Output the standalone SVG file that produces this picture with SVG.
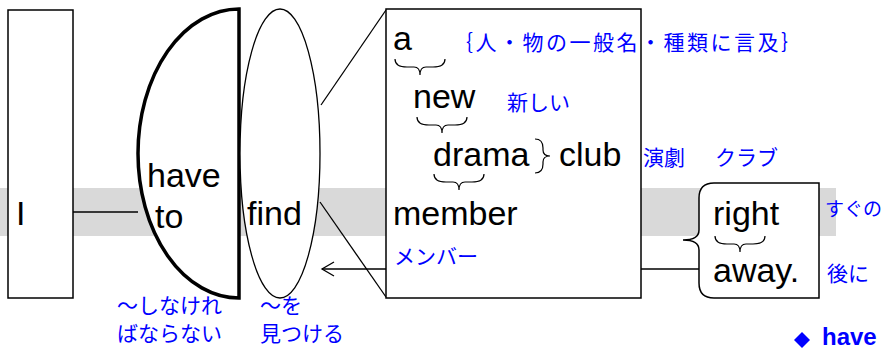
<svg xmlns="http://www.w3.org/2000/svg" width="885" height="351" viewBox="0 0 885 351">
<style>
.en{font-family:"Liberation Sans",Arial,sans-serif;font-size:34px;fill:#000}
.jp{font-family:"Noto Sans CJK JP",sans-serif;font-size:21px;fill:#0000ff}
.ln{stroke:#000;stroke-width:1.3;fill:none}
.box{stroke:#000;stroke-width:1.5;fill:#fff}
.br{stroke:#000;stroke-width:1.2;fill:none}
</style>
<defs>
<path id="ub" d="M0,0 Q0,8 12,8 L19,8 Q25,8 25,16 Q25,8 31,8 L38,8 Q50,8 50,0"/>
<marker id="arr" markerWidth="16" markerHeight="16" refX="13" refY="8" orient="auto" markerUnits="userSpaceOnUse">
<path d="M1,1 L13,8 L1,15" fill="none" stroke="#000" stroke-width="1.3"/>
</marker>
</defs>
<rect x="0" y="188" width="836" height="48" fill="#d9d9d9"/>
<g id="connectors">
<line class="ln" x1="73" y1="212" x2="138" y2="212"/>
<line class="ln" x1="321" y1="105" x2="386" y2="10"/>
<line class="ln" x1="320" y1="202" x2="386" y2="297"/>
<line class="ln" x1="700" y1="269" x2="322" y2="269" marker-end="url(#arr)"/>
</g>
<g id="node-I">
<rect class="box" x="8" y="10" width="65" height="288"/>
<text class="en" x="16" y="225">I</text>
</g>
<g id="node-have-to">
<path d="M239,9 A101,144.5 0 0 0 239,298 Z" fill="#fff" stroke="#000" stroke-width="3.5"/>
<text class="en" x="147" y="187">have</text>
<text class="en" x="155" y="228">to</text>
<text class="jp" x="117" y="313">～しなけれ</text>
<text class="jp" x="117" y="341">ばならない</text>
</g>
<g id="node-find">
<ellipse cx="280" cy="153.5" rx="40" ry="144.5" fill="#fff" stroke="#000" stroke-width="1.3"/>
<text class="en" x="247" y="225">find</text>
<text class="jp" x="260" y="313">～を</text>
<text class="jp" x="260" y="341">見つける</text>
</g>
<g id="node-object">
<rect class="box" x="386" y="9" width="255" height="289"/>
<text class="en" x="393" y="50">a</text>
<use href="#ub" x="395" y="59" class="br"/>
<text class="en" x="413" y="108">new</text>
<use href="#ub" x="417" y="117" class="br"/>
<text class="en" x="433" y="166">drama</text>
<use href="#ub" x="434" y="174" class="br"/>
<path class="br" d="M535,139 Q543,139 543,148 L543,150 Q543,156 550,156 Q543,156 543,162 L543,164 Q543,173 535,173"/>
<text class="en" x="559" y="166">club</text>
<text class="en" x="393" y="225">member</text>
<text class="jp" x="394" y="264">メンバー</text>
<text class="jp" x="452" y="50" textLength="350" lengthAdjust="spacing">｛人・物の一般名・種類に言及｝</text>
<text class="jp" x="507" y="110">新しい</text>
<text class="jp" x="643" y="165">演劇</text>
<text class="jp" x="715" y="165">クラブ</text>
</g>
<g id="node-right-away">
<path class="box" d="M714,183 L819,183 L819,298 L714,298 Q699,298 699,283 L699,250 Q699,240 683,240 Q699,240 699,230 L699,198 Q699,183 714,183 Z"/>
<text class="en" x="713" y="225">right</text>
<use href="#ub" x="715" y="236" class="br"/>
<text class="en" x="713" y="282">away.</text>
<text class="jp" x="825" y="216" style="font-size:19px">すぐの</text>
<text class="jp" x="827" y="281">後に</text>
</g>
<g id="note">
<path d="M802,332 L810,340 L802,348 L794,340 Z" fill="#0000ff"/>
<text x="822" y="345" font-family="Liberation Sans,Arial,sans-serif" font-size="24" font-weight="bold" fill="#0000ff">have</text>
</g>
</svg>
